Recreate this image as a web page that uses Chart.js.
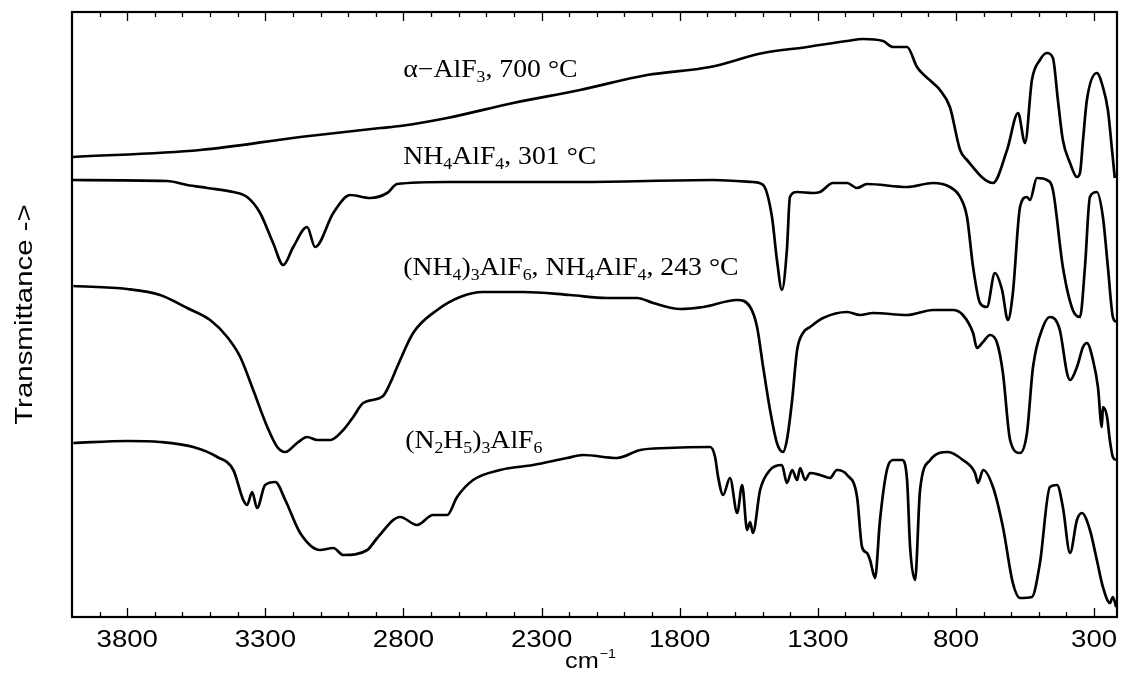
<!DOCTYPE html>
<html><head><meta charset="utf-8">
<script src="https://cdn.jsdelivr.net/npm/chart.js@4.4.1/dist/chart.umd.min.js"></script>
<style>html,body{margin:0;padding:0;background:#fff}</style>
</head><body>
<canvas id="c" width="1127" height="681"></canvas>
<script>
// ---- data (wavenumber in cm-1, transmittance in arbitrary offset units) ----
const wnAlF3 = [3999,3536,3174,2884,2812,2642,2403,2161,1918,1690,1498,1339,1194,1136,1064,1028,977,941,883,858,822,785,760,666,615,575,550,525,496,471,449,431,413,387,362,351,340,326,290,268,250,235,225];
const tAlF3  = [460,467,480,489,491,499,514,527,542,550,564,570,576,578,576,570,570,550,534,527,510,467,457,434,467,504,474,537,557,564,559,517,477,454,440,444,477,517,544,530,507,467,439];

const wnNH4AlF4 = [3999,3655,3583,3510,3416,3366,3319,3272,3235,3199,3149,3120,3054,2993,2921,2859,2823,2642,2161,1679,1535,1498,1466,1448,1430,1412,1401,1375,1317,1292,1245,1194,1158,1122,977,883,822,785,760,738,713,688,659,633,612,594,568,543,532,507,471,449,413,377,351,333,315,290,268,250,232,220];
const tNH4AlF4  = [437,436,432,429,425,420,404,374,352,370,390,370,404,422,419,424,433,435,435,437,435,432,400,357,327,367,420,425,424,425,434,434,429,433,430,434,430,420,400,350,314,310,344,327,297,324,410,420,417,439,437,427,350,307,300,350,420,425,400,350,300,295];

const wnMix = [3995,3800,3681,3583,3500,3438,3391,3344,3293,3257,3228,3185,3149,3112,3065,3018,2982,2946,2874,2848,2823,2765,2678,2595,2512,2367,2197,2063,1954,1896,1799,1715,1592,1545,1520,1498,1473,1448,1426,1412,1393,1375,1354,1328,1281,1194,1147,1100,977,883,811,775,738,724,702,677,651,630,604,568,543,521,485,460,424,398,387,362,340,326,304,286,272,268,253,243,232,220];
const tMix  = [331,328,322,309,297,280,260,227,190,170,165,174,180,177,177,187,200,214,221,234,250,284,307,320,325,325,322,319,319,314,308,310,317,310,290,250,207,174,165,177,217,267,284,290,299,305,302,304,302,307,307,302,284,269,275,282,274,244,177,164,184,250,290,300,287,244,237,250,270,274,257,230,190,210,200,177,160,157];

const wnN2H5 = [3995,3800,3681,3561,3474,3416,3380,3366,3348,3330,3301,3264,3228,3174,3102,3054,3018,2931,2895,2812,2751,2693,2642,2606,2548,2450,2331,2208,2150,2027,1943,1846,1690,1672,1661,1643,1618,1592,1574,1556,1545,1535,1509,1473,1430,1412,1393,1375,1364,1346,1328,1292,1256,1231,1194,1158,1140,1122,1111,1093,1075,1050,1028,995,977,966,948,930,893,829,775,731,720,702,666,630,594,568,525,496,460,434,413,387,362,344,315,290,268,243,232,220];
const tN2H5  = [174,176,175,170,160,147,117,112,125,109,132,135,117,84,67,69,62,67,79,100,92,102,102,120,137,147,152,159,162,159,167,169,170,160,140,122,139,104,132,87,95,84,127,147,152,134,147,137,149,137,144,142,139,147,142,120,70,64,57,39,97,147,157,157,137,70,37,127,157,165,157,144,134,147,130,90,34,19,20,54,130,132,110,64,97,104,87,57,30,14,20,10];

const minorTicks = [3900,3800,3700,3600,3500,3400,3300,3200,3100,3000,2900,2800,2700,2600,2500,2400,2300,2200,2100,2000,1900,1800,1700,1600,1500,1400,1300,1200,1100,1000,900,800,700,600,500,400,300];
const majorTicks = [3800,3300,2800,2300,1800,1300,800,300];
const majorLabels = ['3800','3300','2800','2300','1800','1300','800','300'];

// spectrum labels: segments [text, kind]
const labelTexts = [
  [['α−AlF','n'],['3','b'],[', 700 °C','n']],
  [['NH','n'],['4','b'],['AlF','n'],['4','b'],[', 301 °C','n']],
  [['(NH','n'],['4','b'],[')','n'],['3','b'],['AlF','n'],['6','b'],[', NH','n'],['4','b'],['AlF','n'],['4','b'],[', 243 °C','n']],
  [['(N','n'],['2','b'],['H','n'],['5','b'],[')','n'],['3','b'],['AlF','n'],['6','b']]
];
const labelWn = [2801, 2801, 2801, 2794];
const labelT  = [540, 453, 342, 169];

function pts(w, t) { return w.map((v, i) => ({x: v, y: t[i]})); }

const SX = 1.11; // horizontal stretch of label text
function sText(ctx, str, x, y, font, sx) {
  ctx.save(); ctx.translate(x, y); ctx.scale(sx, 1); ctx.font = font; ctx.fillText(str, 0, 0); ctx.restore();
}
function sWidth(ctx, str, font, sx) { ctx.font = font; return ctx.measureText(str).width * sx; }

const decor = {
  id: 'decor',
  afterDraw(chart) {
    const ctx = chart.ctx, a = chart.chartArea, xs = chart.scales.x, ys = chart.scales.y;
    ctx.save();
    ctx.strokeStyle = '#000'; ctx.fillStyle = '#000';
    // frame
    ctx.lineWidth = 2.2;
    ctx.strokeRect(a.left, a.top, a.right - a.left, a.bottom - a.top);
    // inward ticks top and bottom
    ctx.lineWidth = 1.3;
    minorTicks.forEach(v => {
      const px = Math.round(xs.getPixelForValue(v)) + 0.5;
      const len = majorTicks.includes(v) ? 9 : 5;
      ctx.beginPath();
      ctx.moveTo(px, a.bottom); ctx.lineTo(px, a.bottom - len);
      ctx.moveTo(px, a.top); ctx.lineTo(px, a.top + len);
      ctx.stroke();
    });
    // tick labels
    const tf = '23px "Liberation Sans", Arial, sans-serif';
    ctx.textBaseline = 'alphabetic'; ctx.textAlign = 'left';
    majorTicks.forEach((v, i) => {
      const px = xs.getPixelForValue(v);
      const w = sWidth(ctx, majorLabels[i], tf, 1.2);
      sText(ctx, majorLabels[i], px - w / 2, a.bottom + 30, tf, 1.2);
    });
    // x title cm^-1
    const f1 = '22px "Liberation Sans", Arial, sans-serif', f2 = '13px "Liberation Sans", Arial, sans-serif';
    const w1 = sWidth(ctx, 'cm', f1, 1.15), w2 = sWidth(ctx, '−1', f2, 1.1);
    const cx = 590;
    const x0 = cx - (w1 + w2) / 2;
    sText(ctx, 'cm', x0, 668, f1, 1.15);
    sText(ctx, '−1', x0 + w1 + 1, 658, f2, 1.1);
    // y title
    ctx.save();
    ctx.translate(32, (a.top + a.bottom) / 2);
    ctx.rotate(-Math.PI / 2);
    const yf = '23px "Liberation Sans", Arial, sans-serif';
    const yw = sWidth(ctx, 'Transmittance ->', yf, 1.28);
    sText(ctx, 'Transmittance ->', -yw / 2, 0, yf, 1.28);
    ctx.restore();
    // spectrum labels
    const nf = '25px "Liberation Serif", "Times New Roman", serif', bf = '16px "Liberation Serif", "Times New Roman", serif';
    labelTexts.forEach((segs, k) => {
      let x = xs.getPixelForValue(labelWn[k]);
      const y = ys.getPixelForValue(labelT[k]);
      segs.forEach(([s, kind]) => {
        if (kind === 'n') { sText(ctx, s, x, y, nf, SX); x += sWidth(ctx, s, nf, SX); }
        else { sText(ctx, s, x, y + 5, bf, SX); x += sWidth(ctx, s, bf, SX); }
      });
    });
    ctx.restore();
  }
};

const lineStyle = {borderColor: '#000', borderWidth: 2.7, pointRadius: 0, fill: false, cubicInterpolationMode: 'monotone'};

new Chart(document.getElementById('c').getContext('2d'), {
  type: 'line',
  data: {
    datasets: [
      Object.assign({label: 'α-AlF3, 700 °C', data: pts(wnAlF3, tAlF3)}, lineStyle),
      Object.assign({label: 'NH4AlF4, 301 °C', data: pts(wnNH4AlF4, tNH4AlF4)}, lineStyle),
      Object.assign({label: '(NH4)3AlF6, NH4AlF4, 243 °C', data: pts(wnMix, tMix)}, lineStyle),
      Object.assign({label: '(N2H5)3AlF6', data: pts(wnN2H5, tN2H5)}, lineStyle)
    ]
  },
  options: {
    responsive: false, animation: false, parsing: true,
    layout: {padding: {top: 12, right: 10, left: 0, bottom: 0}},
    plugins: {legend: {display: false}, tooltip: {enabled: false}},
    scales: {
      x: {type: 'linear', reverse: true, min: 217, max: 4000,
          grid: {display: false}, border: {display: false}, ticks: {display: false},
          afterFit: s => { s.height = 64; }},
      y: {type: 'linear', min: 0, max: 605,
          grid: {display: false}, border: {display: false}, ticks: {display: false},
          afterFit: s => { s.width = 72; }}
    }
  },
  plugins: [decor]
});
</script>
</body></html>
